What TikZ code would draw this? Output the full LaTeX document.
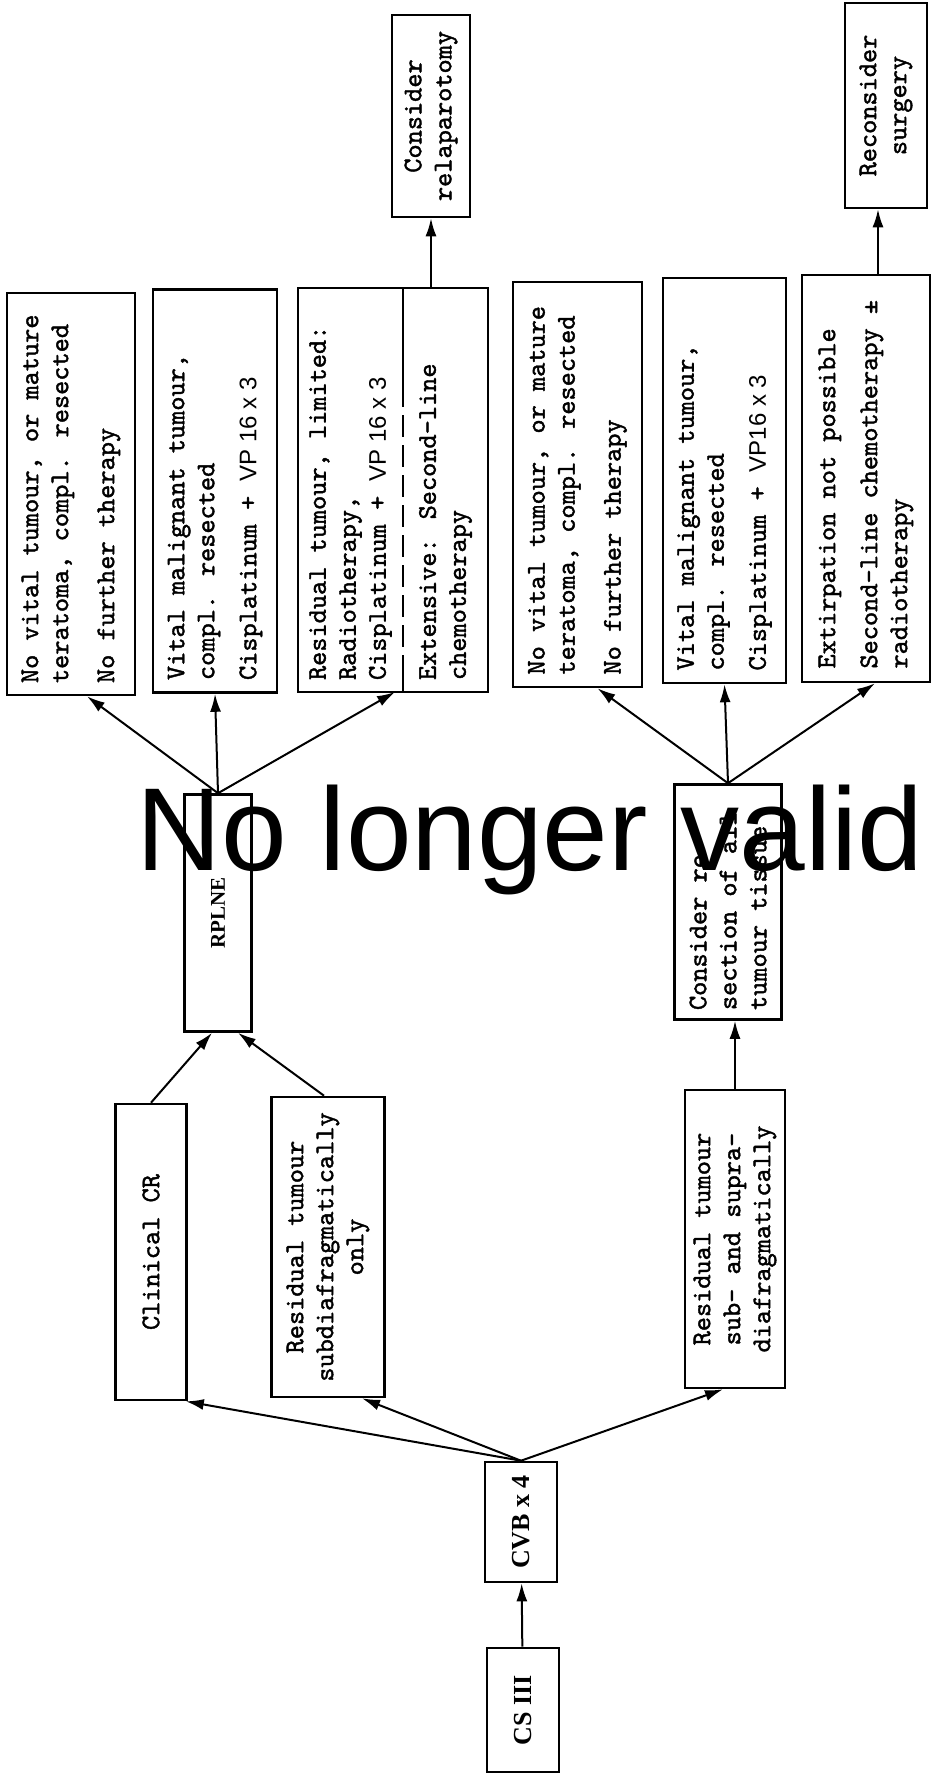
\documentclass[tikz,border=0pt]{standalone}
\usepackage{fontspec}
\usetikzlibrary{arrows.meta,positioning}
\newfontfamily\boxfont{lmmono10-regular}[Extension=.otf,FakeBold=1.5]
\newfontfamily\labelfont{Liberation Serif}
\newfontfamily\vpfont{Liberation Sans}
\newfontfamily\stampfont{Liberation Sans}
\newcommand{\sidetext}[2]{\rotatebox{90}{\parbox{#1}{#2}}}
\newcommand{\vpsix}[1]{{\vpfont\fontsize{12}{15}\selectfont #1}}

\begin{document}
\begin{tikzpicture}[x=0.5pt, y=-0.5pt,
    flowbox/.style={draw, line width=1.3pt, inner sep=0pt, font=\boxfont\fontsize{13.5}{15}\selectfont},
    labelbox/.style={draw, line width=1.3pt, inner sep=0pt, font=\labelfont\bfseries\fontsize{13}{15}\selectfont},
    flowarrow/.style={line width=1pt, -{Latex[length=9pt,width=5.5pt]}},
  ]
  \useasboundingbox (0,0) rectangle (931,1776);
  % start and induction
  \node[labelbox, minimum width=36pt, minimum height=62pt]    (csiii)    at (523,1710) {\rotatebox{90}{CS III}};
  \node[labelbox, minimum width=36pt, minimum height=60pt]    (cvb)      at (521,1522) {\rotatebox{90}{CVB x 4}};
  \draw[flowarrow] (csiii) -- (cvb);
  % response after CVB
  \node[flowbox, minimum width=35.5pt, minimum height=148pt]  (clincr)   at (151,1252) {\sidetext{140pt}{\centering Clinical CR}};
  \node[flowbox, minimum width=56.5pt, minimum height=150pt]  (subdiaf)  at (328,1247) {\sidetext{144pt}{\centering Residual tumour\\ subdiafragmatically\\ only}};
  \node[flowbox, minimum width=50pt, minimum height=149pt]    (subsupra) at (735,1239) {\sidetext{142pt}{\centering Residual tumour\\ sub- and supra-\\ diafragmatically}};
  \draw[flowarrow] (cvb.north) -- ([xshift=-1pt]clincr.south east);
  \draw[flowarrow] (cvb.north) -- ([xshift=17pt]subdiaf.south);
  \draw[flowarrow] (cvb.north) -- ([xshift=-6pt]subsupra.south);
  % surgery
  \node[labelbox, font=\labelfont\bfseries\fontsize{10.5}{12}\selectfont,
        minimum width=33.5pt, minimum height=118.5pt]         (rplne)    at (218,913)  {\rotatebox{90}{RPLNE}};
  \node[flowbox, minimum width=53.5pt, minimum height=117.5pt] (resect)  at (728,902)  {\sidetext{108pt}{\raggedright Consider re-\\ section of all\\ tumour tissue}};
  \draw[flowarrow] (clincr.north) -- ([xshift=-3pt]rplne.south);
  \draw[flowarrow] ([xshift=-2pt]subdiaf.north) -- ([xshift=10pt]rplne.south);
  \draw[flowarrow] (subsupra.north) -- (subsupra.north |- resect.south);
  % histology after RPLNE
  \node[flowbox, minimum width=64pt, minimum height=201pt]    (nofurther) at (71,494)  {\sidetext{189pt}{\raggedright No vital tumour, or mature\\ teratoma, compl. resected\\[8pt] No further therapy}};
  \node[flowbox, minimum width=62pt, minimum height=201.5pt]  (cispla)    at (215,491) {\sidetext{189pt}{\raggedright Vital malignant tumour,\\ compl. resected\\[6pt] Cisplatinum + \vpsix{VP 16 x 3}}};
  \node[flowbox, draw=none, outer sep=0pt, minimum width=52.5pt, minimum height=202pt] (limited) at (350.5,490) {\sidetext{190pt}{\raggedright Residual tumour, limited:\\ Radiotherapy,\\ Cisplatinum + \vpsix{VP 16 x 3}}};
  \node[flowbox, draw=none, outer sep=0pt, minimum width=42.5pt, minimum height=202pt] (extensive) [right=0pt of limited] {\sidetext{190pt}{\raggedright Extensive: Second-line\\ chemotherapy}};
  \draw[line width=1.3pt] (limited.north west) rectangle (extensive.south east);
  \draw[line width=1.3pt] (limited.north east) -- ++(0,97) coordinate (dashtop);
  \draw[line width=1.3pt, dash pattern=on 11pt off 4pt] (dashtop) -- ++(0,291) coordinate (dashend);
  \draw[line width=1.3pt] (dashend) -- (limited.south east);
  \draw[flowarrow] (rplne.north) -- ([xshift=8pt]nofurther.south);
  \draw[flowarrow] (rplne.north) -- (cispla.south);
  \draw[flowarrow] (rplne.north) -- ([xshift=-4pt]limited.south east);
  \node[flowbox, minimum width=39pt, minimum height=101pt]    (relap)    at (431,116)  {\sidetext{95pt}{\centering Consider\\ relaparotomy}};
  \draw[flowarrow] (relap.south |- extensive.north) -- (relap.south);
  % histology after resection
  \node[flowbox, minimum width=64.5pt, minimum height=202.5pt] (nofurtherb) at (577.5,484.5) {\sidetext{190pt}{\raggedright No vital tumour, or mature\\ teratoma, compl. resected\\[8pt] No further therapy}};
  \node[flowbox, minimum width=61.5pt, minimum height=202.5pt] (csplb)      at (724.5,480.5) {\sidetext{190pt}{\raggedright Vital malignant tumour,\\ compl. resected\\[6pt] Cisplatinum + \vpsix{VP16 x 3}}};
  \node[flowbox, minimum width=64pt, minimum height=203.5pt]   (extirp)     at (866,478.5)   {\sidetext{190pt}{\raggedright Extirpation not possible\\[6pt] Second-line chemotherapy ±\\ radiotherapy}};
  \draw[flowarrow] (resect.north) -- ([xshift=10pt]nofurtherb.south);
  \draw[flowarrow] (resect.north) -- (csplb.south);
  \draw[flowarrow] (resect.north) -- ([xshift=4.5pt]extirp.south);
  \node[flowbox, minimum width=41pt, minimum height=102.5pt]   (recons)     at (886,105.5)   {\sidetext{95pt}{\centering Reconsider\\ surgery}};
  \draw[flowarrow] ([xshift=6pt]extirp.north) -- ([xshift=6pt]extirp.north |- recons.south);
  % stamp over the chart
  \node[anchor=base west, inner sep=0pt, font=\stampfont\fontsize{59}{59}\selectfont] (stamp) at (136,870) {No longer valid};
\end{tikzpicture}
\end{document}
